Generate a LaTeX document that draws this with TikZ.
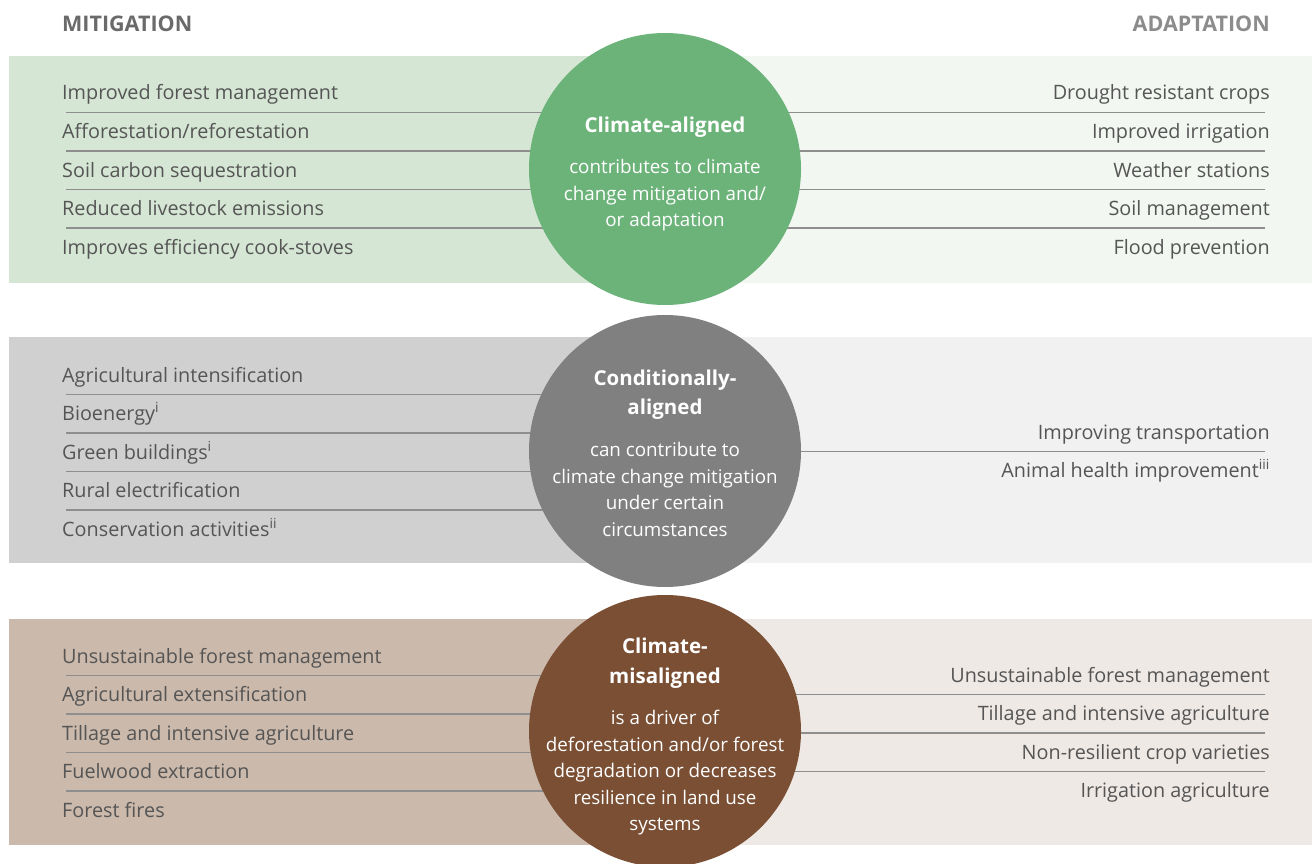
\documentclass[tikz,border=0pt]{standalone}
\usepackage{fontspec}
\setmainfont{Open Sans}
\usetikzlibrary{positioning}
\definecolor{txtgray}{HTML}{555555}
\definecolor{headgray}{HTML}{6A6A6A}
\definecolor{headlight}{HTML}{8C8C8C}
\definecolor{linegray}{HTML}{8E8E8E}
\definecolor{greendark}{HTML}{D5E6D4}
\definecolor{greenlight}{HTML}{F2F7F1}
\definecolor{greydark}{HTML}{D0D0D0}
\definecolor{greylight}{HTML}{F1F1F1}
\definecolor{browndark}{HTML}{CBB9AB}
\definecolor{brownlight}{HTML}{EFE9E5}
\definecolor{alignedgreen}{HTML}{6CB37A}
\definecolor{condgrey}{HTML}{808080}
\definecolor{misbrown}{HTML}{7A4F34}
\newcommand{\ttl}[1]{{\fontsize{20.5}{26.5}\selectfont\bfseries #1}}
\tikzset{
  item/.style={inner sep=0pt, text=txtgray,
    font=\fontsize{19.8}{23}\selectfont, text height=14pt, text depth=4pt},
  left item/.style={item, anchor=west},
  right item/.style={item, anchor=east},
  sep/.style={draw=linegray, line width=1.4pt},
  bubble/.style={circle, minimum size=272pt, inner sep=0pt},
  blurb/.style={text=white, align=center, inner sep=0pt,
    font=\fontsize{18.8}{26.5}\selectfont},
  head/.style={inner sep=0pt, font=\fontsize{21.5}{23}\selectfont\bfseries}
}

\begin{document}
\begin{tikzpicture}[x=1pt,y=-1pt]
  \useasboundingbox (0,0) rectangle (1312,864);

  % bands
  \fill[greendark]  (9,56)  rectangle (665,283);
  \fill[greenlight] (665,56) rectangle (1312,283);
  \fill[greydark]   (9,337) rectangle (665,563);
  \fill[greylight]  (665,337) rectangle (1312,563);
  \fill[browndark]  (9,619) rectangle (665,845);
  \fill[brownlight] (665,619) rectangle (1312,845);

  % headings
  \node[head, text=headgray, anchor=west] (Mit) at (62,24) {MITIGATION};
  \node[head, text=headlight, anchor=east] (Ada) at (1270,24) {ADAPTATION};

  % circle centres
  \coordinate (ca) at (665,169);
  \coordinate (cb) at (665,451);
  \coordinate (cc) at (665,731);

  % climate-aligned, mitigation
  \node[left item] (m1) at (62,95) {Improved forest management};
  \node[below=38.5pt of m1.west, left item] (m2) {Afforestation/reforestation};
  \node[below=38.5pt of m2.west, left item] (m3) {Soil carbon sequestration};
  \node[below=38.5pt of m3.west, left item] (m4) {Reduced livestock emissions};
  \node[below=38.5pt of m4.west, left item] (m5) {Improves efficiency cook-stoves};
  % climate-aligned, adaptation
  \node[right item] (a1) at (1270,95) {Drought resistant crops};
  \node[below=38.5pt of a1.east, right item] (a2) {Improved irrigation};
  \node[below=38.5pt of a2.east, right item] (a3) {Weather stations};
  \node[below=38.5pt of a3.east, right item] (a4) {Soil management};
  \node[below=38.5pt of a4.east, right item] (a5) {Flood prevention};

  % conditionally-aligned, mitigation
  \node[left item] (n1) at (62,377) {Agricultural intensification};
  \node[below=38.5pt of n1.west, left item] (n2) {Bioenergy\textsuperscript{i}};
  \node[below=38.5pt of n2.west, left item] (n3) {Green buildings\textsuperscript{i}};
  \node[below=38.5pt of n3.west, left item] (n4) {Rural electrification};
  \node[below=38.5pt of n4.west, left item] (n5) {Conservation activities\textsuperscript{ii}};
  % conditionally-aligned, adaptation
  \node[right item] (b1) at (1270,434) {Improving transportation};
  \node[below=38.5pt of b1.east, right item] (b2) {Animal health improvement\textsuperscript{iii}};

  % climate-misaligned, mitigation
  \node[left item] (p1) at (62,658) {Unsustainable forest management};
  \node[below=38.5pt of p1.west, left item] (p2) {Agricultural extensification};
  \node[below=38.5pt of p2.west, left item] (p3) {Tillage and intensive agriculture};
  \node[below=38.5pt of p3.west, left item] (p4) {Fuelwood extraction};
  \node[below=38.5pt of p4.west, left item] (p5) {Forest fires};
  % climate-misaligned, adaptation
  \node[right item] (d1) at (1270,677) {Unsustainable forest management};
  \node[below=38.5pt of d1.east, right item] (d2) {Tillage and intensive agriculture};
  \node[below=38.5pt of d2.east, right item] (d3) {Non-resilient crop varieties};
  \node[below=38.5pt of d3.east, right item] (d4) {Irrigation agriculture};

  % separators, running in under the circles
  \draw[sep] ([shift={(4,17.5)}]m1.west) coordinate (s) -- (s -| ca);
  \draw[sep] ([shift={(4,17.5)}]m2.west) coordinate (s) -- (s -| ca);
  \draw[sep] ([shift={(4,17.5)}]m3.west) coordinate (s) -- (s -| ca);
  \draw[sep] ([shift={(4,17.5)}]m4.west) coordinate (s) -- (s -| ca);
  \draw[sep] ([shift={(-5,17.5)}]a1.east) coordinate (s) -- (s -| ca);
  \draw[sep] ([shift={(-5,17.5)}]a2.east) coordinate (s) -- (s -| ca);
  \draw[sep] ([shift={(-5,17.5)}]a3.east) coordinate (s) -- (s -| ca);
  \draw[sep] ([shift={(-5,17.5)}]a4.east) coordinate (s) -- (s -| ca);

  \draw[sep] ([shift={(4,17.5)}]n1.west) coordinate (s) -- (s -| cb);
  \draw[sep] ([shift={(4,17.5)}]n2.west) coordinate (s) -- (s -| cb);
  \draw[sep] ([shift={(4,17.5)}]n3.west) coordinate (s) -- (s -| cb);
  \draw[sep] ([shift={(4,17.5)}]n4.west) coordinate (s) -- (s -| cb);
  \draw[sep] ([shift={(-5,17.5)}]b1.east) coordinate (s) -- (s -| cb);

  \draw[sep] ([shift={(4,17.5)}]p1.west) coordinate (s) -- (s -| cc);
  \draw[sep] ([shift={(4,17.5)}]p2.west) coordinate (s) -- (s -| cc);
  \draw[sep] ([shift={(4,17.5)}]p3.west) coordinate (s) -- (s -| cc);
  \draw[sep] ([shift={(4,17.5)}]p4.west) coordinate (s) -- (s -| cc);
  \draw[sep] ([shift={(-5,17.5)}]d1.east) coordinate (s) -- (s -| cc);
  \draw[sep] ([shift={(-5,17.5)}]d2.east) coordinate (s) -- (s -| cc);
  \draw[sep] ([shift={(-5,17.5)}]d3.east) coordinate (s) -- (s -| cc);

  % circles
  \node[bubble, fill=alignedgreen] (Aligned) at (ca) {};
  \node[bubble, fill=condgrey] (Cond) at (cb) {};
  \node[bubble, fill=misbrown] (Mis) at (cc) {};

  \node[blurb] (AlignedText) at ([yshift=-5pt]Aligned)
    {\ttl{Climate-aligned}\\[15pt]
     contributes to climate\\change mitigation and/\\or adaptation};
  \node[blurb] (CondText) at ([yshift=-2pt]Cond)
    {\ttl{Conditionally-}\\[2.5pt]\ttl{aligned}\\[16pt]
     can contribute to\\climate change mitigation\\under certain\\circumstances};
  \node[blurb] (MisText) at ([yshift=-5.5pt]Mis)
    {\ttl{Climate-}\\[3pt]\ttl{misaligned}\\[15pt]
     is a driver of\\deforestation and/or forest\\degradation or decreases\\resilience in land use\\systems};
\end{tikzpicture}
\end{document}
